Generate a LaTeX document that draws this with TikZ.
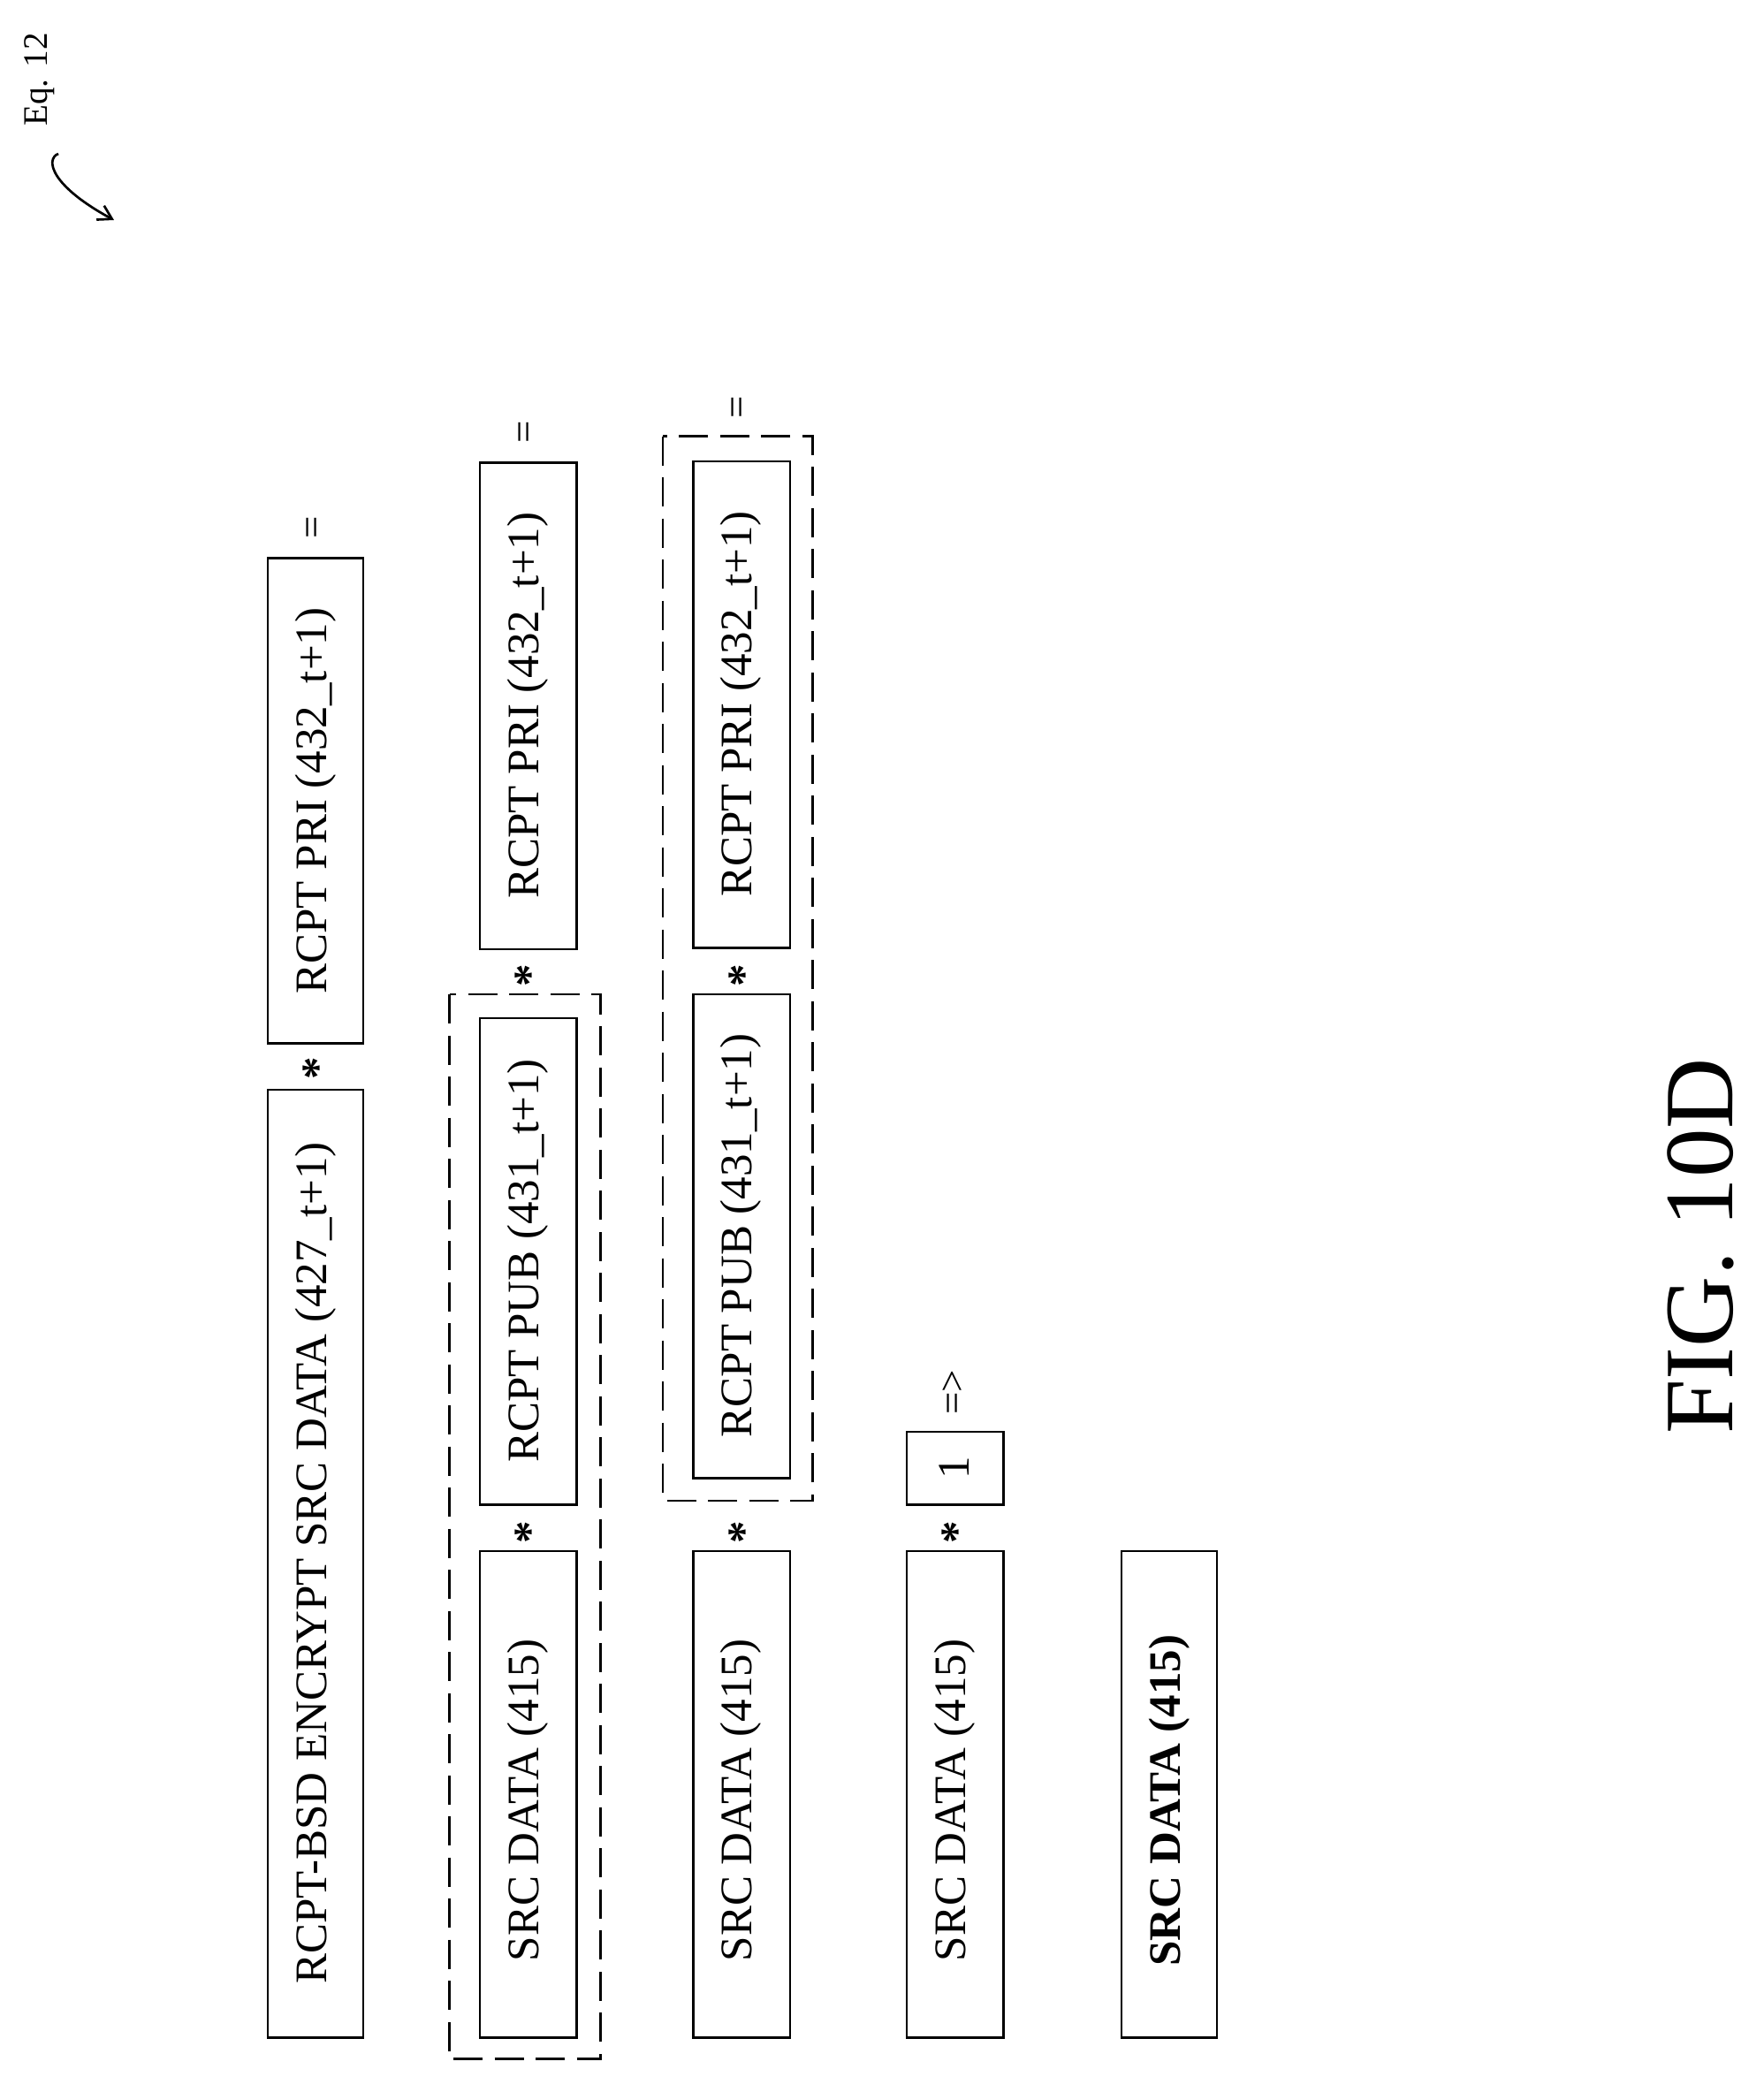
\documentclass[tikz,border=0pt]{standalone}
\usepackage{fontspec}
\setmainfont{Liberation Serif}
\usetikzlibrary{arrows.meta}
\begin{document}
\begin{tikzpicture}[x=1pt,y=-1pt,
 bx/.style={draw,line width=1.8pt},
 dbx/.style={draw,line width=1.8pt,dash pattern=on 22pt off 9pt},
 tx/.style={rotate=90,font=\fontsize{34}{36}\selectfont},
 op/.style={rotate=90,font=\fontsize{30}{32}\selectfont},
 st/.style={rotate=90,font=\fontsize{34}{36}\selectfont\bfseries}]
\useasboundingbox (0,0) rectangle (1330,1578);
% column 1
\draw[bx] (202,822) rectangle (274,1537); \node[tx] (a1) at (238,1179) {RCPT-BSD ENCRYPT SRC DATA (427\_t+1)};
\node[st] (s1) at (240,806) {*};
\draw[bx] (202,421) rectangle (274,787); \node[tx] (a2) at (238,604) {RCPT PRI (432\_t+1)};
\node[op] (e1) at (238,398) {=};
% column 2
\draw[dbx] (339,750) rectangle (453,1553);
\draw[bx] (362,1170) rectangle (435,1537); \node[tx] (b1) at (398,1358) {SRC DATA (415)};
\node[st] (s2) at (400,1156) {*};
\draw[bx] (362,768) rectangle (435,1135); \node[tx] (b2) at (398,951) {RCPT PUB (431\_t+1)};
\node[st] (s3) at (400,736) {*};
\draw[bx] (362,349) rectangle (435,716); \node[tx] (b3) at (398,532) {RCPT PRI (432\_t+1)};
\node[op] (e2) at (398,326) {=};
% column 3
\draw[bx] (523,1170) rectangle (596,1537); \node[tx] (c1) at (559,1358) {SRC DATA (415)};
\node[st] (s4) at (561,1156) {*};
\draw[dbx] (500,329) rectangle (613,1132);
\draw[bx] (523,750) rectangle (596,1115); \node[tx] (c2) at (559,932) {RCPT PUB (431\_t+1)};
\node[st] (s5) at (561,736) {*};
\draw[bx] (523,348) rectangle (596,715); \node[tx] (c3) at (559,531) {RCPT PRI (432\_t+1)};
\node[op] (e3) at (559,307) {=};
% column 4
\draw[bx] (684,1170) rectangle (757,1537); \node[tx] (d1) at (720,1358) {SRC DATA (415)};
\node[st] (s6) at (722,1156) {*};
\draw[bx] (684,1080) rectangle (757,1135); \node[tx] (d2) at (720,1107) {1};
\node[op] (e4) at (720,1050) {=>};
% column 5
\draw[bx] (846,1170) rectangle (918,1537); \node[tx,font=\fontsize{34}{36}\selectfont\bfseries] (f1) at (882,1358) {SRC DATA (415)};
% title
\node[rotate=90,font=\fontsize{74}{76}\selectfont] (fig) at (1283,940) {FIG. 10D};
\node[rotate=90,font=\fontsize{26}{28}\selectfont] (eq) at (30,60) {Eq. 12};
\coordinate (q1) at (44,116);
\coordinate (q2) at (86,166);
\draw[line width=1.8pt,-{Straight Barb[length=10pt,width=12pt]}] (q1) .. controls (34,120) and (38,140) .. (q2);
\end{tikzpicture}
\end{document}
